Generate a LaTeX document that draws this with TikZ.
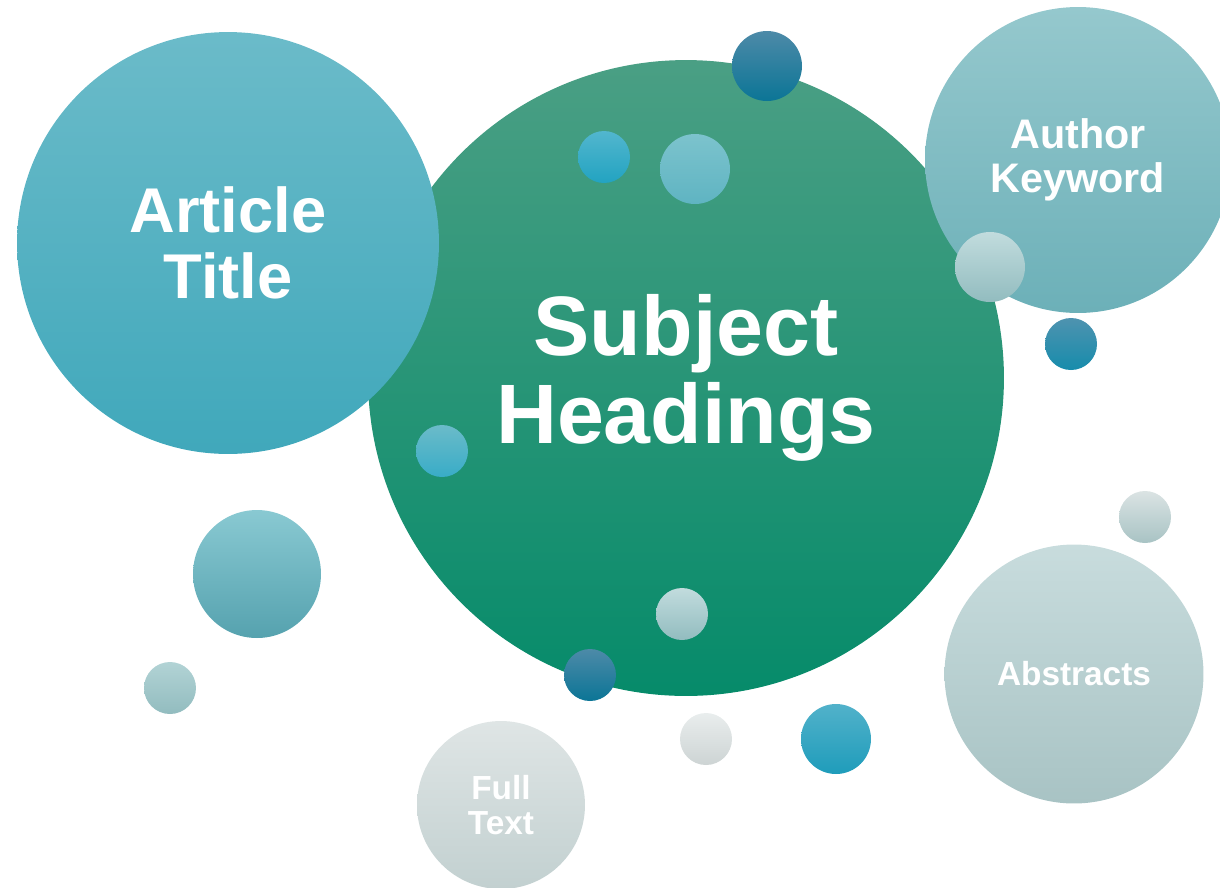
\documentclass[tikz,border=0pt]{standalone}
\usepackage{fontspec}
\setmainfont{Liberation Sans}

\definecolor{greenTop}{HTML}{4A9F84}
\definecolor{greenMid}{HTML}{12976F}
\definecolor{greenBot}{HTML}{068B6A}
\definecolor{titleTop}{HTML}{6BBBC9}
\definecolor{titleMid}{HTML}{50B6CA}
\definecolor{titleBot}{HTML}{40A8BB}
\definecolor{authorTop}{HTML}{95C8CD}
\definecolor{authorBot}{HTML}{6CB0B8}
\definecolor{abstractTop}{HTML}{C8DCDD}
\definecolor{abstractBot}{HTML}{A8C3C4}
\definecolor{fullTop}{HTML}{DFE5E5}
\definecolor{fullBot}{HTML}{C2D0D0}
\definecolor{darkTop}{HTML}{4D8AA8}
\definecolor{darkBot}{HTML}{0B7596}
\definecolor{blueTop}{HTML}{52B6CE}
\definecolor{blueBot}{HTML}{22A3C1}
\definecolor{tealTop}{HTML}{7CC3CD}
\definecolor{tealBot}{HTML}{5FB4C2}
\definecolor{paleTop}{HTML}{B2D3D5}
\definecolor{paleBot}{HTML}{92BCBF}
\definecolor{greyTop}{HTML}{E9EDED}
\definecolor{greyBot}{HTML}{CDD4D4}

\begin{document}
\begin{tikzpicture}[
            x=0.02cm, y=-0.02cm,
            bubble/.style={circle, inner sep=0pt, text=white, align=center},
            dot/.style={circle, inner sep=0pt, minimum size=1.04cm},
            middot/.style={circle, inner sep=0pt, minimum size=1.4cm}
            ]
            \useasboundingbox (0,0) rectangle (1220,887);

            % Main bubbles
            \node[bubble, minimum size=12.72cm, top color=greenTop, middle color=greenMid, bottom color=greenBot,
                  font=\fontsize{48}{50.5}\selectfont\bfseries] (subject) at (686,378) {Subject\\Headings};
            \node[bubble, minimum size=8.44cm, top color=titleTop, middle color=titleMid, bottom color=titleBot,
                  font=\fontsize{36}{38}\selectfont\bfseries] (title) at (228,243) {Article\\Title};
            \node[bubble, minimum size=6.12cm, top color=authorTop, bottom color=authorBot,
                  font=\fontsize{23.5}{25}\selectfont\bfseries] (author) at (1078,160) {Author\\Keyword};
            \node[bubble, minimum size=5.18cm, top color=abstractTop, bottom color=abstractBot,
                  font=\fontsize{19}{20}\selectfont\bfseries] (abstracts) at (1074,674) {Abstracts};
            \node[bubble, minimum size=3.36cm, top color=fullTop, bottom color=fullBot,
                  font=\fontsize{19}{20}\selectfont\bfseries] (fulltext) at (501,805) {Full\\Text};

            % Small dots
            \node[middot, top color=darkTop, bottom color=darkBot] (topdot) at (767,66) {};
            \node[dot, top color=blueTop, bottom color=blueBot] (bluedot) at (604,157) {};
            \node[middot, top color=tealTop, bottom color=tealBot] (tealdot) at (695,169) {};
            \node[middot, top color=paleTop!80!white, bottom color=paleBot] (authordot) at (990,267) {};
            \node[dot, top color=darkTop!80!blueTop, bottom color=darkBot!50!blueBot] (keydot) at (1071,344) {};
            \node[dot, top color=titleTop, bottom color=blueBot!90!white] (leftdot) at (442,451) {};
            \node[circle, inner sep=0pt, minimum size=2.56cm, top color=tealTop!90!white, bottom color=tealBot!90!black] (bigdot) at (257,574) {};
            \node[dot, top color=paleTop, bottom color=paleBot] (cornerdot) at (170,688) {};
            \node[dot, top color=paleTop!80!white, bottom color=paleBot] (innerdot) at (682,614) {};
            \node[dot, top color=darkTop, bottom color=darkBot] (edgedot) at (590,675) {};
            \node[dot, top color=greyTop, bottom color=greyBot] (greydot) at (706,739) {};
            \node[middot, top color=blueTop!90!darkTop, bottom color=blueBot!85!darkBot] (lowdot) at (836,739) {};
            \node[dot, top color=fullTop!90!paleTop, bottom color=abstractBot] (rightdot) at (1145,517) {};

        \end{tikzpicture}
\end{document}
